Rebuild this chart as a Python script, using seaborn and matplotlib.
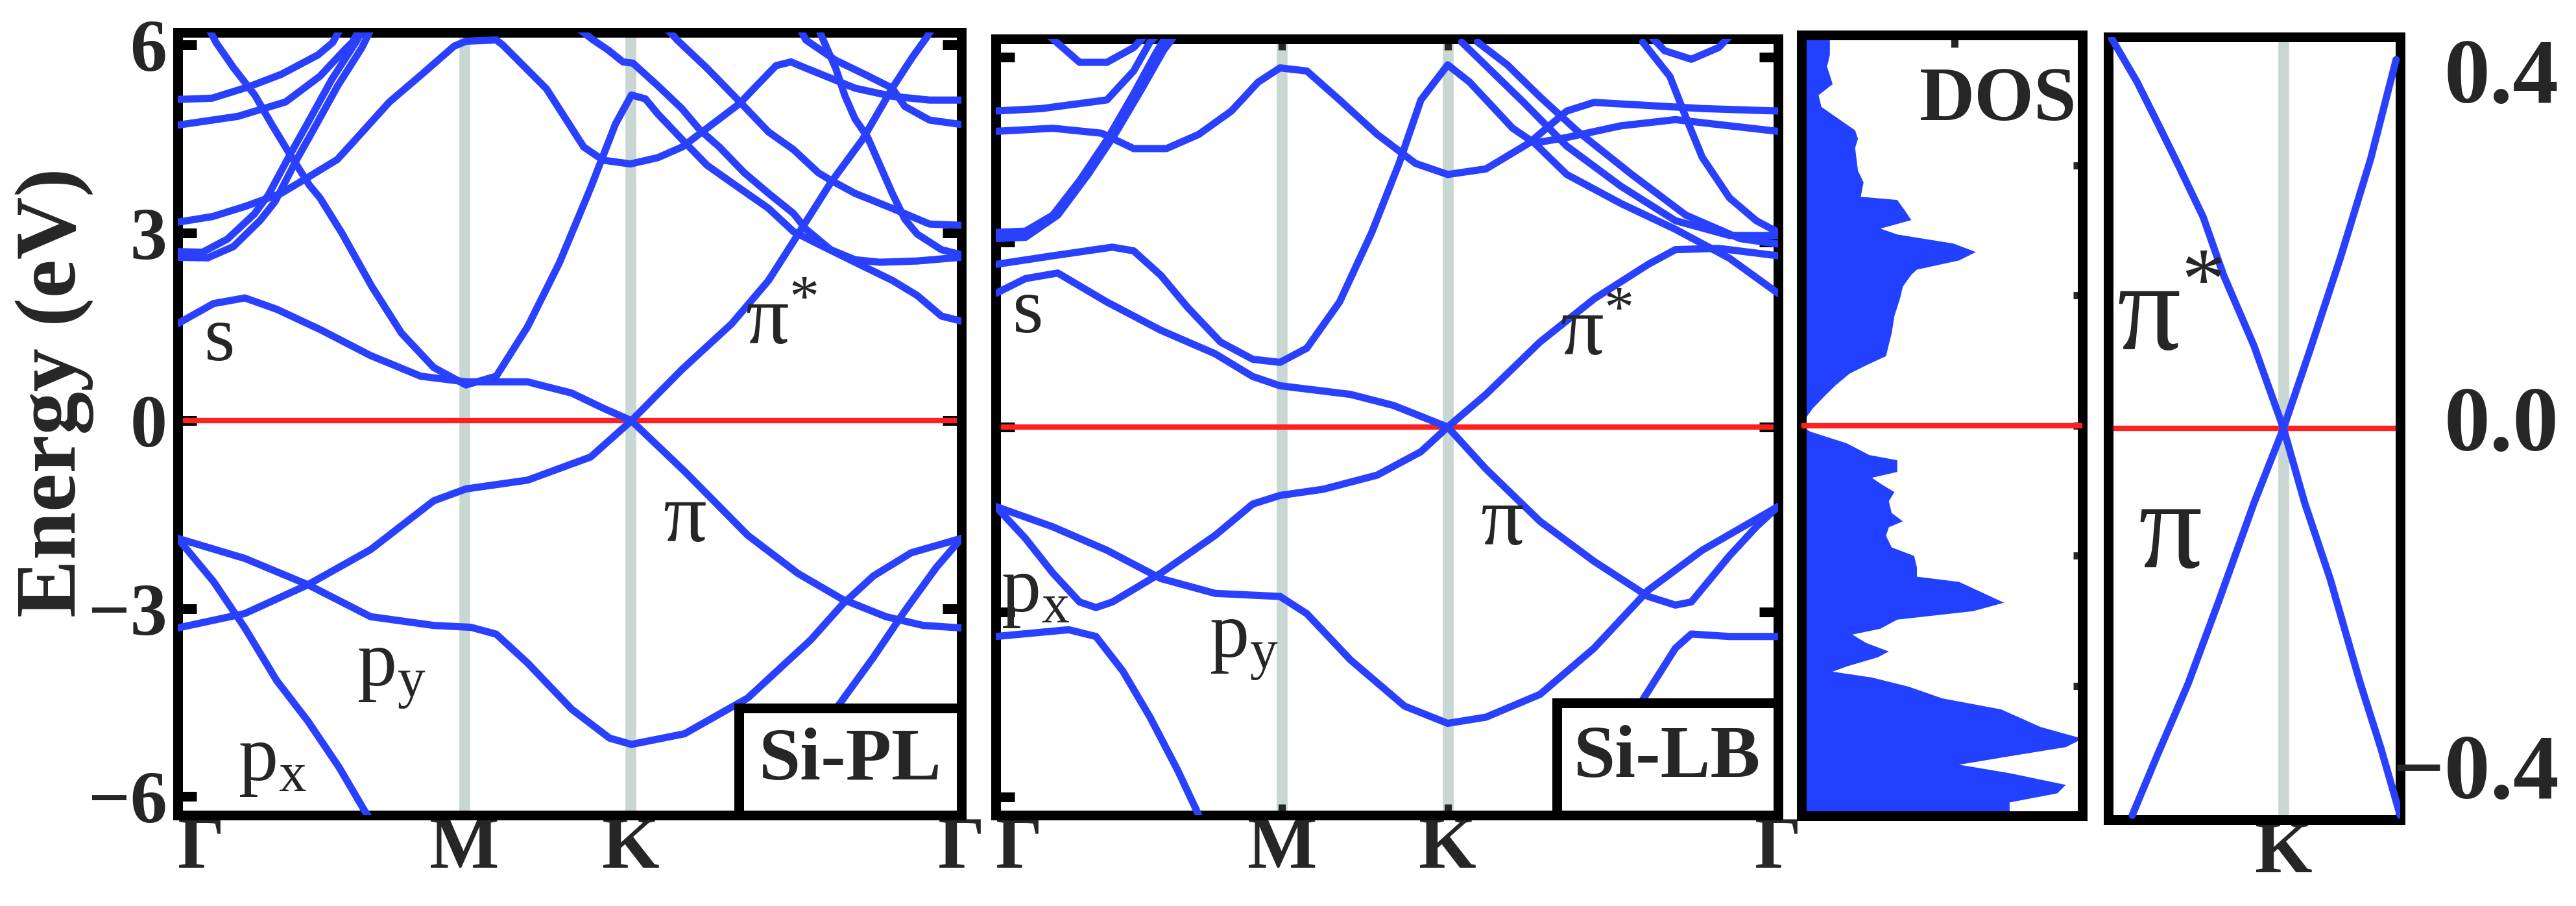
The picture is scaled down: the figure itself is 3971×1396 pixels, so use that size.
import numpy as np
import pandas as pd
import matplotlib
matplotlib.use('Agg')
import matplotlib.pyplot as plt
import matplotlib.transforms as mtransforms
import seaborn as sns
from matplotlib.patches import Rectangle

sns.set_theme(style='white')
plt.rcParams['font.family'] = 'serif'
plt.rcParams['font.serif'] = ['Liberation Serif', 'DejaVu Serif']
plt.rcParams['mathtext.fontset'] = 'custom'
plt.rcParams['mathtext.rm'] = 'Liberation Serif'
plt.rcParams['mathtext.it'] = 'Liberation Serif:italic'
plt.rcParams['mathtext.bf'] = 'Liberation Serif:bold'

# high symmetry path G-M-K-G
kpath = [0.0, 0.577, 0.911, 1.577]
kpath_labels = ['Γ', 'M', 'K', 'Γ']

# ---------------- Si-PL bands (k, E) ----------------
pl_px_l_k = [0.0, 0.072, 0.135, 0.199, 0.262, 0.325, 0.376, 0.40]
pl_px_l_E = [-1.88, -2.57, -3.31, -4.15, -4.80, -5.54, -6.23, -6.5]
pl_py_k = [0.0, 0.135, 0.262, 0.388, 0.515, 0.59, 0.641, 0.704, 0.793, 0.869, 0.913,
           1.02, 1.147, 1.274, 1.337, 1.40, 1.476, 1.577]
pl_py_E = [-1.88, -2.20, -2.62, -3.13, -3.27, -3.30, -3.41, -3.87, -4.61, -5.07, -5.17,
           -5.0, -4.43, -3.5, -2.94, -2.48, -2.11, -1.88]
pl_px_r_k = [1.17, 1.25, 1.324, 1.40, 1.463, 1.527, 1.577]
pl_px_r_E = [-6.5, -5.41, -4.61, -3.78, -3.04, -2.34, -1.88]
pl_pi_k = [0.0, 0.135, 0.262, 0.388, 0.515, 0.58, 0.704, 0.831, 0.913, 1.02, 1.147,
           1.248, 1.337, 1.425, 1.50, 1.577]
pl_pi_E = [-3.31, -3.08, -2.62, -2.06, -1.28, -1.09, -0.95, -0.58, 0.0, -0.81, -1.83,
           -2.44, -2.85, -3.13, -3.27, -3.31]
pl_s_k = [0.0, 0.072, 0.135, 0.199, 0.288, 0.388, 0.489, 0.58, 0.704, 0.793, 0.856, 0.913,
          1.015, 1.115, 1.189, 1.239, 1.314, 1.378, 1.438, 1.478, 1.507, 1.53]
pl_s_E = [1.55, 1.87, 1.96, 1.78, 1.45, 1.04, 0.71, 0.62, 0.62, 0.44, 0.20, 0.0,
          0.82, 1.55, 2.24, 2.86, 3.80, 4.49, 5.31, 5.80, 6.12, 6.4]
pl_x_k = [0.06, 0.077, 0.112, 0.155, 0.19, 0.226, 0.265, 0.286, 0.33, 0.39, 0.45, 0.515,
          0.58, 0.641, 0.704, 0.768, 0.831, 0.881, 0.913, 0.941, 0.966, 1.015, 1.065, 1.115,
          1.189, 1.239, 1.289, 1.363, 1.438, 1.488, 1.537, 1.577]
pl_x_E = [6.3, 6.04, 5.64, 5.20, 4.72, 4.25, 3.76, 3.56, 3.0, 2.15, 1.4, 0.85,
          0.57, 0.71, 1.5, 2.52, 3.72, 4.74, 5.2, 5.14, 4.90, 4.49, 4.08, 3.80,
          3.39, 3.02, 2.82, 2.53, 2.24, 2.0, 1.67, 1.59]
pl_b8_k = [0.0, 0.07, 0.135, 0.208, 0.265, 0.321, 0.36, 0.426, 0.491, 0.556, 0.58, 0.641,
           0.654, 0.742, 0.817, 0.856, 0.911, 0.966, 1.015, 1.055, 1.09, 1.13, 1.165, 1.204,
           1.234, 1.264, 1.314, 1.363, 1.438, 1.513, 1.577]
pl_b8_E = [3.17, 3.26, 3.42, 3.63, 3.90, 4.17, 4.51, 5.09, 5.53, 5.98, 6.06, 6.08,
           6.0, 5.3, 4.37, 4.16, 4.10, 4.20, 4.37, 4.61, 4.82, 5.06, 5.35, 5.67,
           5.73, 5.63, 5.47, 5.31, 5.18, 5.12, 5.12]
pl_u1_k = [0.0, 0.069, 0.142, 0.208, 0.282, 0.312, 0.33]
pl_u1_E = [5.13, 5.15, 5.33, 5.53, 5.84, 6.04, 6.3]
pl_u2_k = [0.0, 0.121, 0.217, 0.286, 0.338, 0.351, 0.37]
pl_u2_E = [4.72, 4.86, 5.09, 5.50, 5.94, 6.04, 6.3]
pl_p1_k = [0.0, 0.05, 0.10, 0.154, 0.182, 0.226, 0.262, 0.31, 0.358, 0.38]
pl_p1_E = [2.70, 2.69, 2.9, 3.30, 3.6, 4.25, 4.76, 5.45, 6.04, 6.35]
pl_p2_k = [0.0, 0.06, 0.112, 0.166, 0.196, 0.238, 0.274, 0.322, 0.37, 0.392]
pl_p2_E = [2.61, 2.60, 2.78, 3.2, 3.5, 4.15, 4.66, 5.35, 5.95, 6.3]
pl_b7_k = [0.80, 0.836, 0.866, 0.896, 0.916, 0.966, 1.015, 1.05, 1.09, 1.14, 1.189, 1.239,
           1.264, 1.314, 1.363, 1.413, 1.488, 1.577]
pl_b7_E = [6.3, 6.08, 5.92, 5.73, 5.71, 5.35, 4.98, 4.65, 4.37, 3.96, 3.63, 3.31,
           3.06, 2.73, 2.57, 2.53, 2.55, 2.61]
pl_b9_k = [0.98, 1.005, 1.065, 1.13, 1.189, 1.239, 1.289, 1.314, 1.363, 1.438, 1.513, 1.577]
pl_b9_E = [6.3, 6.08, 5.63, 5.10, 4.61, 4.33, 3.96, 3.84, 3.63, 3.39, 3.14, 3.12]
pl_b10_k = [1.25, 1.264, 1.323, 1.388, 1.438, 1.463, 1.513, 1.577]
pl_b10_E = [6.3, 6.08, 5.76, 5.51, 5.31, 5.02, 4.80, 4.73]
pl_b11_k = [1.285, 1.299, 1.324, 1.343, 1.363, 1.388, 1.413, 1.438, 1.463, 1.488, 1.537, 1.577]
pl_b11_E = [6.35, 6.08, 5.63, 5.18, 4.82, 4.53, 4.08, 3.63, 3.22, 2.98, 2.73, 2.65]

# ---------------- Si-LB bands (k, E) ----------------
lb_py_k = [0.0, 0.115, 0.224, 0.333, 0.442, 0.573, 0.627, 0.715, 0.824, 0.911,
           0.988, 1.097, 1.206, 1.315, 1.424, 1.577]
lb_py_E = [-1.29, -1.62, -2.0, -2.46, -2.70, -2.75, -3.03, -3.78, -4.53, -4.81,
           -4.71, -4.34, -3.59, -2.65, -2.0, -1.29]
lb_pi_k = [0.0, 0.06, 0.115, 0.169, 0.202, 0.235, 0.333, 0.442, 0.518, 0.573, 0.66, 0.769,
           0.857, 0.911, 0.988, 1.097, 1.206, 1.315, 1.37, 1.402, 1.479, 1.533, 1.577]
lb_pi_E = [-1.29, -1.81, -2.37, -2.84, -2.93, -2.84, -2.37, -1.76, -1.25, -1.11, -1.01, -0.78,
           -0.40, 0.0, -0.68, -1.53, -2.18, -2.75, -2.89, -2.84, -2.09, -1.62, -1.29]
lb_low_l_k = [0.0, 0.147, 0.202, 0.256, 0.311, 0.366, 0.404, 0.42]
lb_low_l_E = [-3.40, -3.29, -3.40, -3.96, -4.71, -5.56, -6.21, -6.5]
lb_low_r_k = [1.15, 1.173, 1.239, 1.304, 1.37, 1.402, 1.479, 1.577]
lb_low_r_E = [-6.5, -6.21, -5.28, -4.43, -3.59, -3.36, -3.40, -3.40]
lb_s_k = [0.0, 0.06, 0.125, 0.224, 0.333, 0.442, 0.518, 0.573, 0.715, 0.802, 0.911,
          0.988, 1.097, 1.206, 1.315, 1.37, 1.457, 1.577]
lb_s_E = [2.17, 2.41, 2.50, 2.03, 1.57, 1.19, 0.82, 0.67, 0.53, 0.35, 0.0,
          0.53, 1.38, 2.08, 2.64, 2.88, 2.90, 2.78]
lb_x_k = [0.0, 0.115, 0.235, 0.278, 0.333, 0.387, 0.453, 0.518, 0.573, 0.627, 0.693, 0.758,
          0.813, 0.857, 0.911, 0.955, 1.042, 1.086, 1.151, 1.26, 1.37, 1.479, 1.577]
lb_x_E = [2.64, 2.78, 2.92, 2.86, 2.46, 1.94, 1.38, 1.10, 1.05, 1.28, 2.03, 3.16,
          4.28, 5.31, 5.88, 5.60, 4.85, 4.61, 4.10, 3.63, 3.21, 2.74, 2.17]
lb_dome_k = [0.0, 0.115, 0.213, 0.278, 0.344, 0.409, 0.475, 0.529, 0.573, 0.627, 0.693,
             0.769, 0.846, 0.911, 0.988, 1.075, 1.151, 1.206, 1.315, 1.424, 1.577]
lb_dome_E = [4.80, 4.85, 4.77, 4.52, 4.52, 4.75, 5.13, 5.60, 5.83, 5.78, 5.31,
             4.75, 4.28, 4.10, 4.19, 4.61, 5.13, 5.27, 5.22, 5.17, 5.13]
lb_u5_k = [0.0, 0.093, 0.224, 0.278, 0.311, 0.33]
lb_u5_E = [5.13, 5.17, 5.31, 5.78, 6.25, 6.4]
lb_p1_k = [0.0, 0.06, 0.115, 0.169, 0.224, 0.278, 0.322, 0.344]
lb_p1_E = [3.16, 3.18, 3.44, 4.0, 4.66, 5.41, 6.06, 6.35]
lb_p2_k = [0.0, 0.06, 0.125, 0.186, 0.24, 0.295, 0.338, 0.36]
lb_p2_E = [3.06, 3.08, 3.44, 4.10, 4.75, 5.50, 6.11, 6.35]
lb_top_k = [0.10, 0.115, 0.169, 0.224, 0.278, 0.30]
lb_top_E = [6.4, 6.3, 5.92, 5.92, 6.16, 6.35]
lb_r1_k = [0.939, 0.999, 1.064, 1.151, 1.26, 1.37, 1.479, 1.577]
lb_r1_E = [6.25, 5.78, 5.27, 4.56, 3.91, 3.35, 3.11, 3.11]
lb_r2_k = [0.971, 1.031, 1.097, 1.173, 1.282, 1.391, 1.50, 1.577]
lb_r2_E = [6.25, 5.88, 5.36, 4.80, 4.10, 3.44, 3.06, 2.97]
lb_r3_k = [1.304, 1.359, 1.391, 1.424, 1.479, 1.533, 1.577]
lb_r3_E = [6.25, 5.69, 5.03, 4.38, 3.72, 3.35, 3.16]
lb_r4_k = [1.086, 1.151, 1.26, 1.37, 1.479, 1.577]
lb_r4_E = [4.61, 4.70, 4.89, 4.99, 4.89, 4.80]
lb_r5_k = [1.32, 1.348, 1.402, 1.457, 1.48]
lb_r5_E = [6.35, 6.11, 5.97, 6.16, 6.35]

# ---------------- DOS ----------------
dos_E = [6.1, 5.97, 5.70, 5.52, 5.25, 5.08, 4.90, 4.54, 4.41, 4.27, 3.92, 3.74, 3.52, 3.47,
         3.29, 3.16, 3.03, 2.94, 2.80, 2.67, 2.54, 2.40, 2.32, 2.14, 1.96, 1.69, 1.42, 1.25,
         1.07, 0.93, 0.80, 0.62, 0.45, 0.27, 0.09, 0.0, -0.09, -0.27, -0.45, -0.53, -0.71,
         -0.80, -0.89, -1.02, -1.16, -1.34, -1.47, -1.56, -1.69, -1.87, -2.00, -2.18, -2.32,
         -2.40, -2.58, -2.72, -2.85, -2.98, -3.12, -3.21, -3.34, -3.47, -3.56, -3.70, -3.78,
         -3.87, -4.01, -4.19, -4.36, -4.63, -4.81, -4.94, -5.08, -5.21, -5.34, -5.52, -5.65,
         -5.79, -5.92, -6.05]
dos_val = [0.10, 0.10, 0.10, 0.09, 0.11, 0.06, 0.07, 0.19, 0.20, 0.19, 0.20, 0.22, 0.21, 0.34,
           0.37, 0.39, 0.28, 0.34, 0.54, 0.62, 0.56, 0.41, 0.39, 0.36, 0.35, 0.33, 0.32, 0.31,
           0.30, 0.23, 0.17, 0.12, 0.08, 0.04, 0.01, 0.0, 0.03, 0.16, 0.24, 0.34, 0.34,
           0.25, 0.28, 0.33, 0.31, 0.32, 0.36, 0.31, 0.30, 0.32, 0.40, 0.41, 0.41,
           0.56, 0.65, 0.72, 0.61, 0.34, 0.28, 0.18, 0.23, 0.31, 0.27, 0.16, 0.11,
           0.25, 0.38, 0.50, 0.71, 0.85, 1.0, 0.94, 0.74, 0.56, 0.74, 0.94, 0.91,
           0.74, 0.74, 0.74]

# ---------------- zoom at K ----------------
kz_a_k = [-0.6, -0.501, -0.431, -0.362, -0.275, -0.205, -0.101, 0.0, 0.073, 0.160, 0.264, 0.334, 0.40]
kz_a_E = [0.455, 0.398, 0.351, 0.304, 0.243, 0.176, 0.095, 0.0, -0.086, -0.173, -0.294, -0.368, -0.445]
kz_b_k = [-0.518, -0.431, -0.327, -0.223, -0.101, 0.0, 0.090, 0.195, 0.299, 0.386]
kz_b_E = [-0.445, -0.375, -0.294, -0.200, -0.086, 0.0, 0.089, 0.196, 0.310, 0.424]
kz_ticks = [0.4, 0.0, -0.4]
kz_tick_labels = ['0.4', '0.0', '−0.4']

BLUE = '#2a40ff'
RED = '#ff2020'
GRAY = '#c8d7d1'
LW = 8.0
FRAME = 10.8


def band_table(bands):
    rows = []
    for name, (ks, es) in bands.items():
        for k, e in zip(ks, es):
            rows.append({'band': name, 'k': k, 'E': e})
    return pd.DataFrame(rows)


pl_df = band_table({
    'px_l': (pl_px_l_k, pl_px_l_E), 'py': (pl_py_k, pl_py_E), 'px_r': (pl_px_r_k, pl_px_r_E),
    'pi': (pl_pi_k, pl_pi_E), 's': (pl_s_k, pl_s_E), 'x': (pl_x_k, pl_x_E),
    'b8': (pl_b8_k, pl_b8_E), 'u1': (pl_u1_k, pl_u1_E), 'u2': (pl_u2_k, pl_u2_E),
    'p1': (pl_p1_k, pl_p1_E), 'p2': (pl_p2_k, pl_p2_E), 'b7': (pl_b7_k, pl_b7_E),
    'b9': (pl_b9_k, pl_b9_E), 'b10': (pl_b10_k, pl_b10_E), 'b11': (pl_b11_k, pl_b11_E),
})
lb_df = band_table({
    'py': (lb_py_k, lb_py_E), 'pi': (lb_pi_k, lb_pi_E), 'low_l': (lb_low_l_k, lb_low_l_E),
    'low_r': (lb_low_r_k, lb_low_r_E), 's': (lb_s_k, lb_s_E), 'x': (lb_x_k, lb_x_E),
    'dome': (lb_dome_k, lb_dome_E), 'u5': (lb_u5_k, lb_u5_E), 'p1': (lb_p1_k, lb_p1_E),
    'p2': (lb_p2_k, lb_p2_E), 'top': (lb_top_k, lb_top_E), 'r1': (lb_r1_k, lb_r1_E),
    'r2': (lb_r2_k, lb_r2_E), 'r3': (lb_r3_k, lb_r3_E), 'r4': (lb_r4_k, lb_r4_E),
    'r5': (lb_r5_k, lb_r5_E),
})
kz_df = band_table({'a': (kz_a_k, kz_a_E), 'b': (kz_b_k, kz_b_E)})

W, H = 3971, 1396
fig = plt.figure(figsize=(W / 100, H / 100), dpi=100)


def add_ax(l, r, t, b):
    return fig.add_axes([l / W, 1 - b / H, (r - l) / W, (b - t) / H])


ax1 = add_ax(274, 1482, 50, 1256)
ax2 = add_ax(1535, 2741, 60, 1256)
ax3 = add_ax(2777, 3210, 54, 1257)
ax4 = add_ax(3250, 3700, 57, 1263)

for ax in (ax1, ax2, ax3, ax4):
    for sp in ax.spines.values():
        sp.set_visible(True)
        sp.set_color('black')
        sp.set_linewidth(FRAME)
    ax.set_facecolor('white')


def band_panel(ax, df, ylim, name, box_w, box_h, labels):
    for k in kpath[1:3]:
        ax.axvline(k, color=GRAY, lw=12, zorder=0)
    ax.axhline(0, color=RED, lw=6, zorder=2)
    sns.lineplot(data=df, x='k', y='E', units='band', estimator=None, sort=False,
                 color=BLUE, lw=LW, ax=ax, legend=False, zorder=3,
                 solid_joinstyle='round', solid_capstyle='round')
    ax.set_xlim(kpath[0], kpath[-1])
    ax.set_ylim(*ylim)
    ax.set_xlabel('')
    ax.set_ylabel('')
    ax.set_xticks(kpath)
    ax.set_xticklabels(kpath_labels, fontsize=82, fontweight='bold')
    ax.xaxis.get_ticklabels()[0].set_ha('left')
    ax.tick_params(axis='x', length=0, pad=1)
    ax.set_yticks([-6, -3, 0, 3, 6])
    ax.tick_params(axis='y', which='both', direction='in', length=21, width=FRAME,
                   left=True, right=True, color='black')
    ax.add_patch(Rectangle((1 - box_w, 0), box_w, box_h, transform=ax.transAxes,
                           fc='white', ec='black', lw=FRAME, zorder=6, clip_on=False))
    ax.text(1 - box_w / 2, box_h / 2, name, transform=ax.transAxes, fontsize=83,
            fontweight='bold', ha='center', va='center', zorder=7)
    for txt, x, y, fs in labels:
        ax.text(x, y, txt, fontsize=fs, ha='center', va='center', zorder=5)


pl_labels = [('s', 0.085, 1.27, 88), (r'$\mathrm{\pi}^{*}$', 1.215, 1.55, 95),
             (r'$\mathrm{\pi}$', 1.02, -1.6, 95), (r'$\mathrm{p}_{\mathrm{y}}$', 0.43, -4.05, 88),
             (r'$\mathrm{p}_{\mathrm{x}}$', 0.19, -5.45, 88)]
lb_labels = [('s', 0.065, 1.85, 88), (r'$\mathrm{\pi}^{*}$', 1.21, 1.5, 95),
             (r'$\mathrm{\pi}$', 1.02, -1.57, 95), (r'$\mathrm{p}_{\mathrm{x}}$', 0.08, -2.7, 88),
             (r'$\mathrm{p}_{\mathrm{y}}$', 0.50, -3.55, 88)]

band_panel(ax1, pl_df, (-6.3, 6.2), 'Si-PL', 0.284, 0.137, pl_labels)
ax1.set_yticklabels(['−6', '−3', '0', '3', '6'], fontsize=82, fontweight='bold')
ax1.tick_params(axis='y', labelleft=True, labelright=False, pad=12)

band_panel(ax2, lb_df, (-6.3, 6.3), 'Si-LB', 0.283, 0.145, lb_labels)
ax2.tick_params(axis='y', labelleft=False, labelright=False)
ax2.tick_params(axis='x', top=True, bottom=True, direction='in', length=12, width=8)
ax2.tick_params(axis='x', pad=1)

# DOS panel
ax3.fill_betweenx(dos_E, 0, dos_val, color='#2240ff', lw=0, zorder=2)
ax3.axhline(0, color=RED, lw=6, zorder=3)
ax3.set_xlim(0, 1)
ax3.set_ylim(-6, 6)
ax3.set_yticks([-4, -2, 0, 2, 4])
ax3.set_yticklabels([])
ax3.tick_params(axis='y', direction='in', length=10, width=8, left=False, right=True,
                labelleft=False)
ax3.set_xticks([0.545])
ax3.set_xticklabels([])
ax3.tick_params(axis='x', direction='in', length=14, width=8, top=True, bottom=False,
                labelbottom=False)
ax3.text(0.70, 0.915, 'DOS', transform=ax3.transAxes, fontsize=85, fontweight='bold',
         ha='center', va='center', zorder=5)

# zoom near K
ax4.axvline(0, color=GRAY, lw=12, zorder=0)
ax4.axhline(0, color=RED, lw=6, zorder=2)
sns.lineplot(data=kz_df, x='k', y='E', units='band', estimator=None, sort=False,
             color=BLUE, lw=LW, ax=ax4, legend=False, zorder=3)
ax4.set_xlim(-0.6, 0.4)
ax4.set_ylim(-0.45, 0.45)
ax4.set_xlabel('')
ax4.set_ylabel('')
ax4.set_xticks([0])
ax4.set_xticklabels(['K'], fontsize=82, fontweight='bold')
ax4.tick_params(axis='x', length=0, pad=1)
ax4.set_yticks([])
# right-hand energy labels, right aligned like the reference
trans = mtransforms.blended_transform_factory(ax4.transAxes, ax4.transData)
for val, lab in zip(kz_ticks, kz_tick_labels):
    ax4.text(1.544, val, lab, transform=trans, fontsize=102, fontweight='bold',
             ha='right', va='center', clip_on=False)
ax4.text(-0.39, 0.125, r'$\mathrm{\pi}^{*}$', fontsize=140, ha='center', va='center', zorder=5)
ax4.text(-0.39, -0.125, r'$\mathrm{\pi}$', fontsize=140, ha='center', va='center', zorder=5)

fig.text(84 / W, 1 - 605 / H, 'Energy (eV)', rotation=90, fontsize=96, fontweight='bold',
         ha='center', va='center')

fig.savefig('out.png', dpi=100, facecolor='white')
